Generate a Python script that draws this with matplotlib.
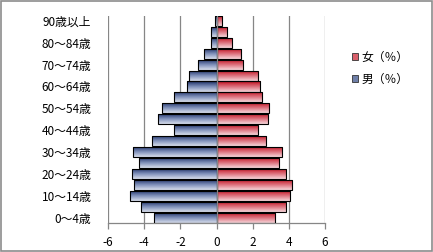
import numpy as np
import matplotlib
matplotlib.use("Agg")
import matplotlib.pyplot as plt
from matplotlib.colors import LinearSegmentedColormap
from matplotlib.patches import Rectangle, Patch

plt.rcParams['font.family'] = ['Noto Sans CJK JP', 'DejaVu Sans']

ages = ["0～4歳", "5～9歳", "10～14歳", "15～19歳", "20～24歳", "25～29歳",
        "30～34歳", "35～39歳", "40～44歳", "45～49歳", "50～54歳", "55～59歳",
        "60～64歳", "65～69歳", "70～74歳", "75～79歳", "80～84歳", "85～89歳",
        "90歳以上"]
male = [-3.45, -4.17, -4.78, -4.56, -4.67, -4.28, -4.61, -3.56, -2.34, -3.23,
        -3.01, -2.36, -1.63, -1.52, -1.02, -0.69, -0.33, -0.33, -0.08]
female = [3.26, 3.82, 4.07, 4.20, 3.85, 3.48, 3.63, 2.71, 2.30, 2.87,
          2.93, 2.49, 2.38, 2.32, 1.47, 1.33, 0.86, 0.59, 0.33]
xticks = [-6, -4, -2, 0, 2, 4, 6]
legend_labels = ["女（％）", "男（％）"]

fig = plt.figure(figsize=(4.33, 2.52), dpi=100)
ax = fig.add_axes([108/433, 29/252, 217/433, 207.5/252])

blue_cmap = LinearSegmentedColormap.from_list("b", ["#d8deec", "#7d8eb8", "#1a2c62"])
red_cmap = LinearSegmentedColormap.from_list("r", ["#f6d6da", "#dc707c", "#bf0c1c"])

y = np.arange(len(ages))
grid_c = "#868686"
for xv in xticks:
    if xv != 0:
        ax.axvline(xv, color=grid_c, lw=0.9, zorder=0)

def grad_bars(vals, cmap):
    bars = ax.barh(y, vals, height=0.92, facecolor="none", edgecolor="black",
                   lw=0.8, zorder=3)
    grad = np.linspace(0, 1, 64).reshape(-1, 1)
    for b in bars:
        x0, y0 = b.get_xy()
        w, h = b.get_width(), b.get_height()
        im = ax.imshow(grad, extent=[x0, x0 + w, y0, y0 + h], origin="lower",
                       aspect="auto", cmap=cmap, zorder=2, interpolation="bilinear")
        im.set_clip_path(b)
    return bars

grad_bars(male, blue_cmap)
grad_bars(female, red_cmap)
ax.axvline(0, color=grid_c, lw=0.9, zorder=4)

ax.set_xlim(-6, 6)
ax.set_ylim(-0.5, len(ages) - 0.5)
ax.set_xticks(xticks)
ax.set_xticklabels([str(v) for v in xticks], fontsize=8.5)
ax.set_yticks(y)
ax.set_yticklabels([a if i % 2 == 0 else "" for i, a in enumerate(ages)], fontsize=8.5)
ax.tick_params(axis="y", length=0, pad=12)
ax.tick_params(axis="x", length=4, color=grid_c, width=0.9, pad=5)
for s in ["top", "right", "left"]:
    ax.spines[s].set_visible(False)
ax.spines["bottom"].set_color(grid_c)
ax.spines["bottom"].set_linewidth(0.9)

handles = [Patch(facecolor="#d9606b", edgecolor="#333333", lw=0.6),
           Patch(facecolor="#6f7fa8", edgecolor="#333333", lw=0.6)]
fig.legend(handles, legend_labels, loc="upper left", bbox_to_anchor=(341/433, 1 - 40/252),
           frameon=False, fontsize=8.5, handlelength=0.55, handleheight=0.55,
           handletextpad=0.3, labelspacing=0.75)

fig.add_artist(Rectangle((0.0015, 0.002), 0.996, 0.995, transform=fig.transFigure,
                         fill=False, edgecolor="#8c8c8c", lw=1.2))

fig.savefig("out.png", dpi=100)
